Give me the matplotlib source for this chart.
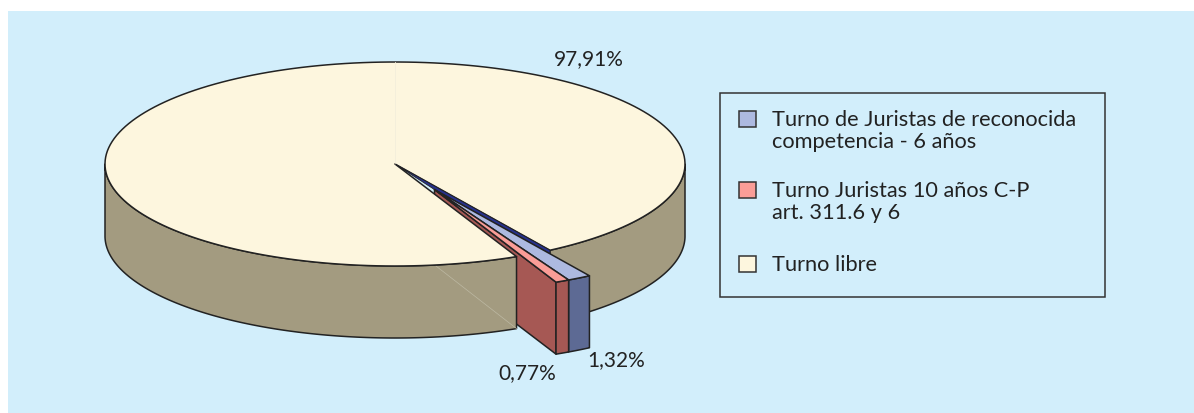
import numpy as np
import matplotlib
matplotlib.use('Agg')
import matplotlib.pyplot as plt
import matplotlib.patches as mpatches

shares = [1.32, 0.77, 97.91]
pct_labels = ['1,32%', '0,77%', '97,91%']
legend_labels = ['Turno de Juristas de reconocida\ncompetencia - 6 años',
                 'Turno Juristas 10 años C-P\nart. 311.6 y 6',
                 'Turno libre']
top_colors = ['#adb9e0', '#fa9d97', '#fdf6de']
side_colors = ['#5d6a94', '#a65854', '#a39b80']

plt.rcParams['font.family'] = ['Lato', 'DejaVu Sans']

fig = plt.figure(figsize=(11.94, 4.14), dpi=100, facecolor='white')
ax = fig.add_axes([0, 0, 1, 1])
ax.set_xlim(0, 1194)
ax.set_ylim(414, 0)
ax.axis('off')

bg = '#d2eefb'
ink = '#222222'
ax.add_patch(mpatches.Rectangle((8, 12), 1186, 402, facecolor=bg, edgecolor='none', zorder=0))

cx, cy, rx, ry, depth = 395, 165, 290, 102, 72
line = dict(edgecolor=ink, linewidth=1.1, joinstyle='round')

# slice angles run clockwise on screen, starting from the cut of the first slice
start = 57.7
angles = np.concatenate([[start], start + np.cumsum(shares) * 3.6])
mid = np.radians((angles[0] + angles[2]) / 2)
apex = np.array([cx + 0.285 * rx * np.cos(mid), cy + 0.285 * ry * np.sin(mid)])


def rim(t0, t1, origin):
    t = np.radians(np.linspace(t0, t1, 200))
    return np.column_stack([origin[0] + rx * np.cos(t), origin[1] + ry * np.sin(t)])


def side(t0, t1, origin):
    arc = rim(t0, t1, origin)
    return np.vstack([arc, arc[::-1] + [0, depth]])


def poly(pts, color, z, **kw):
    style = dict(line)
    style.update(kw)
    ax.add_patch(mpatches.Polygon(pts, closed=True, facecolor=color, zorder=z, **style))


center = np.array([cx, cy])

# right part of the big slice's side sits behind everything else
poly(side(0, angles[0], center), side_colors[2], 1)

# wall of the pulled out red slice, partly hidden by the big slice
c_pt = rim(angles[2], angles[2], apex)[0]
poly([apex, c_pt, c_pt + [0, depth], apex + [0, depth]], side_colors[1], 2)

# big slice: left part of the side, then top
poly(side(angles[2], 180, center), side_colors[2], 3)
low = rim(angles[2], angles[2], center)[0]
ax.plot([436, low[0]], [267, low[1] + depth], color='#bdb9a3', lw=0.5, zorder=4)
poly(np.vstack([center, rim(angles[2], angles[3], center)]), top_colors[2], 5)
ax.plot([cx, cx], [cy - ry, cy], color='#f3eedb', lw=0.6, zorder=5.5)

# dark gap between the big slice and the pulled out ones
cut = rim(angles[0], angles[0], center)[0]
blue_end = rim(angles[0], angles[0], apex)[0]
on_blue = apex + (blue_end - apex) * (cut[0] - apex[0]) / (blue_end[0] - apex[0])
poly([center, cut, on_blue, apex], '#27318c', 6, linewidth=0.6)

# outer faces and tops of the small slices
for i in [0, 1]:
    poly(side(angles[i], angles[i + 1], apex), side_colors[i], 7)
    poly(np.vstack([apex, rim(angles[i], angles[i + 1], apex)]), top_colors[i], 8)

ax.text(589, 59, pct_labels[2], ha='center', va='center', fontsize=15, color=ink, zorder=10)
ax.text(616, 360, pct_labels[0], ha='center', va='center', fontsize=15, color=ink, zorder=10)
ax.text(527, 373, pct_labels[1], ha='center', va='center', fontsize=15, color=ink, zorder=10)

# legend box
ax.add_patch(mpatches.Rectangle((720, 94), 385, 204, facecolor=bg, edgecolor='#333333',
                                linewidth=1.1, zorder=9))
for y, color, label in zip([112, 183, 257], top_colors, legend_labels):
    ax.add_patch(mpatches.Rectangle((739, y), 17, 16, facecolor=color, edgecolor='#333333',
                                    linewidth=1.1, zorder=10))
    ax.text(772, y - 2, label, ha='left', va='top', fontsize=15.7, linespacing=1.15,
            color=ink, zorder=10)

fig.savefig('out.png', dpi=100)
